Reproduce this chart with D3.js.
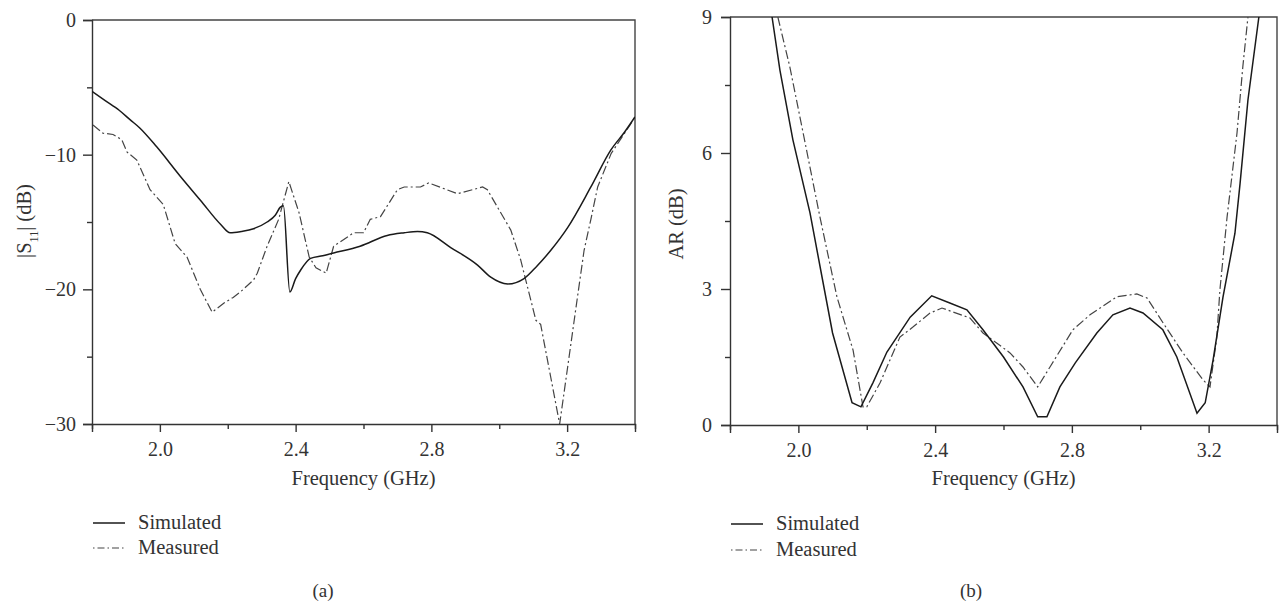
<!DOCTYPE html>
<html>
<head>
<meta charset="utf-8">
<script src="https://cdn.jsdelivr.net/npm/d3@7"></script>
<style>
  html, body { margin: 0; padding: 0; background: #fff; }
  svg { display: block; }
  text { font-family: "Liberation Serif", "DejaVu Serif", serif; fill: #333; }
</style>
</head>
<body>
<svg id="chart" width="1282" height="603"></svg>
<script>
// ---------- DATA ----------
// Panel (a): |S11| (dB)
const s11SimFreq = [1.80, 1.84, 1.88, 1.912, 1.94, 1.99, 2.06, 2.12, 2.18, 2.207, 2.24, 2.276, 2.316, 2.34, 2.355, 2.364,
  2.383, 2.40, 2.414, 2.444, 2.48, 2.512, 2.59, 2.67, 2.72, 2.759, 2.788, 2.857, 2.936, 2.975, 3.025, 3.073, 3.11, 3.152, 3.202, 3.27, 3.329, 3.37, 3.40];
const s11Sim = [-5.3, -6.0, -6.7, -7.4, -8.0, -9.4, -11.6, -13.4, -15.2, -15.8, -15.7, -15.5, -15.0, -14.5, -13.9, -13.8,
  -20.2, -19.2, -18.6, -17.7, -17.5, -17.3, -16.8, -16.0, -15.8, -15.7, -15.8, -16.9, -18.2, -19.1, -19.6, -19.2, -18.3, -17.1, -15.4, -12.4, -9.65, -8.3, -7.2];

const s11MeasFreq = [1.803, 1.832, 1.862, 1.888, 1.903, 1.932, 1.971, 2.01, 2.045, 2.08, 2.119, 2.154, 2.19, 2.216, 2.237, 2.276,
  2.287, 2.316, 2.35, 2.38, 2.41, 2.44, 2.46, 2.49, 2.512, 2.571, 2.60, 2.62, 2.65, 2.70, 2.72, 2.768, 2.792, 2.877, 2.951, 2.965,
  3.034, 3.063, 3.093, 3.108, 3.122, 3.178, 3.232, 3.25, 3.27, 3.29, 3.33, 3.388, 3.40];
const s11Meas = [-7.8, -8.4, -8.5, -8.9, -9.8, -10.4, -12.6, -13.7, -16.6, -17.6, -20.0, -21.7, -21.0, -20.6, -20.2, -19.3,
  -18.8, -16.8, -14.8, -12.0, -14.3, -17.6, -18.4, -18.8, -16.8, -15.8, -15.8, -14.8, -14.6, -12.6, -12.4, -12.4, -12.1, -12.9, -12.4, -12.6,
  -15.6, -17.8, -20.8, -22.3, -22.6, -30.0, -20.3, -17.1, -14.8, -12.4, -9.9, -7.7, -7.2];

// Panel (b): AR (dB)
const arSimFreq = [1.923, 1.946, 1.984, 2.034, 2.069, 2.10, 2.157, 2.183, 2.218, 2.259, 2.327, 2.39, 2.443, 2.493, 2.54, 2.60, 2.657,
  2.70, 2.727, 2.765, 2.81, 2.873, 2.92, 2.97, 3.008, 3.066, 3.107, 3.166, 3.19, 3.213, 3.242, 3.277, 3.292, 3.315, 3.347];
const arSim = [9.0, 7.83, 6.29, 4.68, 3.27, 2.03, 0.49, 0.4, 0.93, 1.61, 2.38, 2.85, 2.69, 2.54, 2.1, 1.5, 0.84,
  0.18, 0.18, 0.84, 1.37, 2.03, 2.43, 2.58, 2.47, 2.1, 1.5, 0.26, 0.49, 1.43, 2.82, 4.23, 5.33, 7.17, 9.0];

const arMeasFreq = [1.94, 1.975, 2.014, 2.063, 2.113, 2.16, 2.189, 2.20, 2.239, 2.297, 2.335, 2.385, 2.42, 2.502, 2.54, 2.619, 2.657,
  2.70, 2.736, 2.803, 2.853, 2.932, 2.99, 3.02, 3.067, 3.125, 3.183, 3.204, 3.224, 3.233, 3.254, 3.283, 3.30, 3.315];
const arMeas = [9.0, 7.9, 6.44, 4.59, 2.82, 1.65, 0.4, 0.4, 0.93, 1.94, 2.16, 2.47, 2.58, 2.36, 2.03, 1.59, 1.28,
  0.84, 1.28, 2.1, 2.43, 2.83, 2.89, 2.8, 2.25, 1.59, 1.0, 0.84, 1.94, 2.98, 4.59, 6.44, 7.9, 9.0];

// Ticks & labels
const xMajorTicks = [2.0, 2.4, 2.8, 3.2];
const xMinorTicks = [1.8, 2.2, 2.6, 3.0, 3.4];
const s11MajorTicks = [0, -10, -20, -30];
const s11MinorTicks = [-5, -15, -25];
const arMajorTicks = [0, 3, 6, 9];
const arMinorTicks = [1.5, 4.5, 7.5];
const legendLabels = ["Simulated", "Measured"];
const panelLabels = ["(a)", "(b)"];
const xTitle = "Frequency (GHz)";

// ---------- DRAW ----------
const svg = d3.select("#chart");
const SOLID = "#1a1a1a";
const MEAS = "#444";
const DASH = "9,3,2,3";

function panel(cfg) {
  const x = d3.scaleLinear().domain([1.8, 3.4]).range([cfg.x0, cfg.x1]);
  const y = d3.scaleLinear().domain(cfg.yDomain).range([cfg.y1, cfg.y0]);
  const g = svg.append("g");

  const clipId = "clip" + cfg.id;
  svg.append("clipPath").attr("id", clipId).append("rect")
    .attr("x", cfg.x0).attr("y", cfg.y0).attr("width", cfg.x1 - cfg.x0).attr("height", cfg.y1 - cfg.y0);

  // frame (top & right)
  g.append("path")
    .attr("d", `M${cfg.x0},${cfg.y0}H${cfg.x1}V${cfg.y1}`)
    .attr("fill", "none").attr("stroke", "#444").attr("stroke-width", 1.4);

  // x axis
  const xMajor = g.append("g").attr("transform", `translate(0,${cfg.y1})`)
    .call(d3.axisBottom(x).tickValues(xMajorTicks).tickSize(8).tickPadding(10).tickFormat(d3.format(".1f")));
  const xMinor = g.append("g").attr("transform", `translate(0,${cfg.y1})`)
    .call(d3.axisBottom(x).tickValues(xMinorTicks).tickSize(5).tickFormat(""));
  // y axis
  const yMajor = g.append("g").attr("transform", `translate(${cfg.x0},0)`)
    .call(d3.axisLeft(y).tickValues(cfg.yMajor).tickSize(9).tickPadding(cfg.yPad).tickFormat(d3.format("d")));
  const yMinor = g.append("g").attr("transform", `translate(${cfg.x0},0)`)
    .call(d3.axisLeft(y).tickValues(cfg.yMinor).tickSize(5).tickFormat(""));

  [xMajor, xMinor, yMajor, yMinor].forEach(a => {
    a.select(".domain").attr("stroke", "#333").attr("stroke-width", 1.4);
    a.selectAll(".tick line").attr("stroke", "#333").attr("stroke-width", 1.4);
    a.selectAll("text").style("font-family", '"Liberation Serif", serif').style("font-size", "20px").attr("fill", "#333");
  });
  xMinor.select(".domain").remove();
  yMinor.select(".domain").remove();

  // lines
  const lineM = d3.line().x(d => x(d[0])).y(d => y(d[1]));
  const lineS = d3.line().x(d => x(d[0])).y(d => y(d[1])).curve(cfg.simCurve);
  const lg = g.append("g").attr("clip-path", `url(#${clipId})`);
  lg.append("path")
    .datum(d3.zip(cfg.measF, cfg.measV))
    .attr("d", lineM).attr("fill", "none").attr("stroke", MEAS).attr("stroke-width", 1.2)
    .attr("stroke-dasharray", DASH);
  lg.append("path")
    .datum(d3.zip(cfg.simF, cfg.simV))
    .attr("d", lineS).attr("fill", "none").attr("stroke", SOLID).attr("stroke-width", 1.5);

  // x title
  g.append("text").attr("x", (cfg.x0 + cfg.x1) / 2).attr("y", 485)
    .attr("text-anchor", "middle").style("font-size", "20.5px").text(xTitle);

  // y title
  const yt = g.append("text").attr("transform", `translate(${cfg.ytx},${cfg.yty}) rotate(-90)`)
    .attr("text-anchor", "middle").style("font-size", "20.5px");
  cfg.yTitle(yt);

  // legend
  const lgd = g.append("g");
  legendLabels.forEach((lab, i) => {
    const ly = cfg.legY[i];
    lgd.append("line").attr("x1", cfg.legX).attr("x2", cfg.legX + 32).attr("y1", ly).attr("y2", ly)
      .attr("stroke", i === 0 ? SOLID : MEAS).attr("stroke-width", i === 0 ? 1.5 : 1.2)
      .attr("stroke-dasharray", i === 0 ? null : "1.5,3,7,3");
    lgd.append("text").attr("x", cfg.legX + 45).attr("y", ly + 6).style("font-size", "20.5px").text(lab);
  });

  // panel label
  g.append("text").attr("x", cfg.labX).attr("y", 597).attr("text-anchor", "middle")
    .style("font-size", "19px").text(cfg.panelLabel);
}

panel({
  id: "a", x0: 92, x1: 635, y0: 20, y1: 424, yDomain: [-30, 0],
  yMajor: s11MajorTicks, yMinor: s11MinorTicks, yPad: 7,
  simF: s11SimFreq, simV: s11Sim, measF: s11MeasFreq, measV: s11Meas, simCurve: d3.curveMonotoneX,
  ytx: 31, yty: 221,
  yTitle: t => {
    t.append("tspan").text("|S");
    t.append("tspan").attr("baseline-shift", "sub").style("font-size", "12px").text("11");
    t.append("tspan").text("| (dB)");
  },
  legX: 93, legY: [523, 548], labX: 323, panelLabel: panelLabels[0]
});

panel({
  id: "b", x0: 730, x1: 1277, y0: 17, y1: 425, yDomain: [0, 9],
  yMajor: arMajorTicks, yMinor: arMinorTicks, yPad: 9,
  simF: arSimFreq, simV: arSim, measF: arMeasFreq, measV: arMeas, simCurve: d3.curveLinear,
  ytx: 683, yty: 224,
  yTitle: t => t.text("AR (dB)"),
  legX: 731, legY: [524, 550], labX: 971, panelLabel: panelLabels[1]
});
</script>
</body>
</html>
